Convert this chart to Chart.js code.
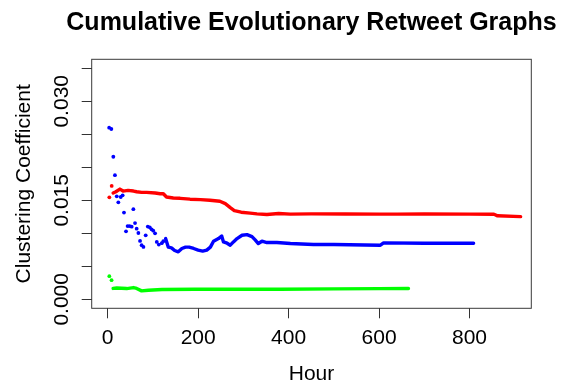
<!DOCTYPE html>
<html>
<head>
<meta charset="utf-8">
<script src="https://cdn.jsdelivr.net/npm/chart.js@4/dist/chart.umd.min.js"></script>
<style>
  html, body { margin: 0; padding: 0; background: #ffffff; }
  #c { display: block; }
</style>
</head>
<body>
<canvas id="c" width="564" height="387"></canvas>
<script>
// ---------- data ----------
const titleText = "Cumulative Evolutionary Retweet Graphs";
const xLabel = "Hour";
const yLabel = "Clustering Coefficient";

const xTicks = [0, 200, 400, 600, 800];
const yTicks = [0, 0.005, 0.010, 0.015, 0.020, 0.025, 0.030, 0.035];
const yTickLabels = ["0.000", "", "", "0.015", "", "", "0.030", ""];

// red series
const redDotHours = [3.6, 8.8];
const redDotValues = [0.01545, 0.01718];
const redLineHours = [12, 18, 27, 34, 45, 57, 64, 75, 86, 105, 116, 123, 130, 145, 160, 182, 205, 226, 248, 260, 271, 280, 295, 315, 330, 352, 378, 404, 450, 525, 600, 640, 700, 800, 854, 862, 913];
const redLineValues = [0.0161, 0.0163, 0.0167, 0.0164, 0.0165, 0.0164, 0.0163, 0.0162, 0.0162, 0.0161, 0.0160, 0.0160, 0.0155, 0.01535, 0.0153, 0.01517, 0.0151, 0.0150, 0.01485, 0.0145, 0.0139, 0.01345, 0.0132, 0.01305, 0.01295, 0.01285, 0.0130, 0.0129, 0.01295, 0.01293, 0.0129, 0.0129, 0.01292, 0.0129, 0.01288, 0.01265, 0.01253];

// blue series
const blueDotHours = [3.2, 8, 12.4, 16, 20, 23.5, 28.8, 33, 36, 40.5, 44, 48.5, 53, 56.7, 60.4, 64, 67.8, 71.5, 75, 79, 84, 88.6, 93, 97, 100.7, 104.7, 108.5, 113, 119.5, 123];
const blueDotValues = [0.0260, 0.0258, 0.0216, 0.0188, 0.0156, 0.0147, 0.0155, 0.01576, 0.01314, 0.0103, 0.0111, 0.0111, 0.0110, 0.01365, 0.01155, 0.0107, 0.01005, 0.00884, 0.0082, 0.00794, 0.0097, 0.01102, 0.0109, 0.0106, 0.0104, 0.01, 0.0087, 0.0083, 0.0085, 0.0088];
const blueLineHours = [128, 134, 141, 148, 156, 164, 172, 180, 190, 200, 210, 219, 227, 234, 245, 252, 256, 264, 271, 278, 286, 297, 308, 319, 326, 333, 341, 352, 374, 404, 455, 500, 603, 610, 700, 809];
const blueLineValues = [0.0092, 0.0079, 0.0078, 0.0074, 0.0072, 0.0077, 0.0079, 0.0079, 0.0077, 0.00745, 0.0073, 0.00745, 0.0079, 0.0088, 0.0092, 0.0096, 0.0087, 0.0085, 0.0082, 0.0087, 0.0092, 0.0097, 0.0098, 0.0095, 0.0090, 0.00845, 0.0088, 0.0086, 0.0086, 0.00845, 0.0083, 0.0083, 0.0082, 0.00855, 0.0085, 0.0085];

// green series
const greenDotHours = [3.6, 8.5];
const greenDotValues = [0.0035, 0.0029];
const greenLineHours = [12, 20, 42, 57, 64, 75, 90, 120, 193, 300, 381, 500, 600, 665];
const greenLineValues = [0.00165, 0.00172, 0.00163, 0.00178, 0.00165, 0.00128, 0.00138, 0.00148, 0.00152, 0.00152, 0.00152, 0.00158, 0.00162, 0.00163];

// ---------- build ----------
const pts = (xs, ys) => xs.map((x, i) => ({ x: x, y: ys[i] }));
const RED = "#ff0000", BLUE = "#0000ff", GREEN = "#00ff00";

function dots(xs, ys, color) {
  return { data: pts(xs, ys), showLine: false, pointRadius: 1.9, pointBorderWidth: 0,
           pointBackgroundColor: color, pointBorderColor: color, pointHoverRadius: 0 };
}
function line(xs, ys, color) {
  return { data: pts(xs, ys), showLine: true, borderColor: color, borderWidth: 3.4,
           borderCapStyle: "round", borderJoinStyle: "round", pointRadius: 0, tension: 0 };
}

const AXIS_FONT = { family: "'Liberation Sans', Arial, Helvetica, sans-serif", size: 21 };
const AREA = { left: 91.7, right: 531.3, top: 59.3, bottom: 308.3 };

const frame = {
  id: "frame",
  afterDraw(chart) {
    const ctx = chart.ctx, a = chart.chartArea;
    ctx.save();
    ctx.strokeStyle = "#3a3a3a";
    ctx.lineWidth = 1;
    ctx.strokeRect(a.left, a.top, a.right - a.left, a.bottom - a.top);
    // title
    ctx.fillStyle = "#000";
    ctx.font = "bold 25px 'Liberation Sans', Arial, sans-serif";
    ctx.textAlign = "center";
    ctx.textBaseline = "alphabetic";
    ctx.fillText(titleText, (a.left + a.right) / 2, 29.8);
    // y tick labels, parallel to the axis (R style)
    const ys = chart.scales.y;
    ctx.font = "21px 'Liberation Sans', Arial, sans-serif";
    ctx.textBaseline = "middle";
    yTicks.forEach((v, i) => {
      if (!yTickLabels[i]) return;
      const py = ys.getPixelForValue(v);
      ctx.save();
      ctx.translate(62, py);
      ctx.rotate(-Math.PI / 2);
      ctx.fillText(yTickLabels[i], 0, 0);
      ctx.restore();
    });
    ctx.restore();
  }
};

new Chart(document.getElementById("c"), {
  type: "scatter",
  data: {
    datasets: [
      line(greenLineHours, greenLineValues, GREEN),
      dots(greenDotHours, greenDotValues, GREEN),
      line(blueLineHours, blueLineValues, BLUE),
      dots(blueDotHours, blueDotValues, BLUE),
      line(redLineHours, redLineValues, RED),
      dots(redDotHours, redDotValues, RED)
    ]
  },
  options: {
    responsive: false,
    animation: false,
    devicePixelRatio: 1,
    layout: { padding: { left: 0, right: 564 - AREA.right, top: AREA.top, bottom: 0 } },
    plugins: { legend: { display: false }, tooltip: { enabled: false }, title: { display: false } },
    scales: {
      x: {
        type: "linear",
        min: -35.4, max: 936.6,
        afterBuildTicks(s) { s.ticks = xTicks.map(v => ({ value: v })); },
        afterFit(s) { s.height = 387 - AREA.bottom; },
        ticks: { color: "#000", font: AXIS_FONT, padding: 7, maxRotation: 0, autoSkip: false,
                 callback: v => String(v) },
        grid: { drawOnChartArea: false, drawTicks: true, tickLength: 10, tickColor: "#333", tickWidth: 1 },
        border: { display: false },
        title: { display: true, text: xLabel, color: "#000", font: AXIS_FONT, padding: { top: 0, bottom: 0 } }
      },
      y: {
        type: "linear",
        min: -0.00136, max: 0.03636,
        afterBuildTicks(s) { s.ticks = yTicks.map(v => ({ value: v })); },
        afterFit(s) { s.width = AREA.left; },
        ticks: { display: false, font: AXIS_FONT },
        grid: { drawOnChartArea: false, drawTicks: true, tickLength: 10, tickColor: "#333", tickWidth: 1 },
        border: { display: false },
        title: { display: true, text: yLabel, color: "#000", font: AXIS_FONT, padding: { top: 11.4, bottom: 0 } }
      }
    }
  },
  plugins: [frame]
});
</script>
</body>
</html>
